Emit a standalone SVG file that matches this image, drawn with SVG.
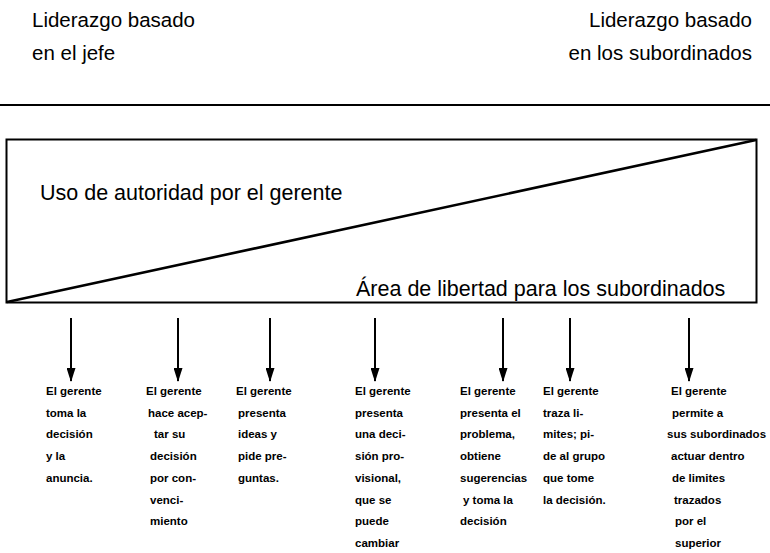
<svg xmlns="http://www.w3.org/2000/svg" width="770" height="553" viewBox="0 0 770 553">
<style>
.hd{font-family:"Liberation Sans",Arial,sans-serif;font-size:20.5px;fill:#000}
.lb{font-family:"Liberation Sans",Arial,sans-serif;font-size:21.5px;fill:#000}
.ct{font-family:"Liberation Sans",Arial,sans-serif;font-size:11.5px;font-weight:bold;fill:#000}
.ln{stroke:#000;fill:none}
.ar{stroke:#000;stroke-width:2;fill:none;marker-end:url(#ah)}
</style>
<defs>
<marker id="ah" viewBox="0 0 14 9" refX="13" refY="4.5" markerWidth="14" markerHeight="9" markerUnits="userSpaceOnUse" orient="auto">
<path d="M0,0 L14,4.5 L0,9 Z" fill="#000"/>
</marker>
</defs>
<rect width="770" height="553" fill="#fff"/>
<g id="header-left">
<text class="hd" x="32" y="27">Liderazgo basado</text>
<text class="hd" x="32" y="60">en el jefe</text>
</g>
<g id="header-right">
<text class="hd" x="752" y="27" text-anchor="end">Liderazgo basado</text>
<text class="hd" x="752" y="60" text-anchor="end">en los subordinados</text>
</g>
<line class="ln" x1="0" y1="105" x2="770" y2="105" stroke-width="2"/>
<g id="chart">
<rect class="ln" x="6.5" y="139.5" width="750" height="163" stroke-width="2"/>
<line class="ln" x1="7" y1="302" x2="756" y2="140" stroke-width="2.6"/>
<text class="lb" x="40" y="200">Uso de autoridad por el gerente</text>
<text class="lb" x="356" y="296">Área de libertad para los subordinados</text>
</g>
<g id="connectors">
<line class="ar" x1="71" y1="318" x2="71" y2="381"/>
<line class="ar" x1="178" y1="318" x2="178" y2="381"/>
<line class="ar" x1="270" y1="318" x2="270" y2="381"/>
<line class="ar" x1="375" y1="318" x2="375" y2="381"/>
<line class="ar" x1="503" y1="318" x2="503" y2="381"/>
<line class="ar" x1="570" y1="318" x2="570" y2="381"/>
<line class="ar" x1="689" y1="318" x2="689" y2="381"/>
</g>
<g id="col1">
<text class="ct" x="46" y="395">El gerente</text>
<text class="ct" x="46" y="416.7">toma la</text>
<text class="ct" x="46" y="438.4">decisión</text>
<text class="ct" x="46" y="460.1">y la</text>
<text class="ct" x="46" y="481.8">anuncia.</text>
</g>
<g id="col2">
<text class="ct" x="146" y="395">El gerente</text>
<text class="ct" x="148" y="416.7">hace acep-</text>
<text class="ct" x="154" y="438.4">tar su</text>
<text class="ct" x="150" y="460.1">decisión</text>
<text class="ct" x="150" y="481.8">por con-</text>
<text class="ct" x="150" y="503.5">venci-</text>
<text class="ct" x="150" y="525.2">miento</text>
</g>
<g id="col3">
<text class="ct" x="236" y="395">El gerente</text>
<text class="ct" x="238" y="416.7">presenta</text>
<text class="ct" x="238" y="438.4">ideas y</text>
<text class="ct" x="238" y="460.1">pide pre-</text>
<text class="ct" x="238" y="481.8">guntas.</text>
</g>
<g id="col4">
<text class="ct" x="355" y="395">El gerente</text>
<text class="ct" x="355" y="416.7">presenta</text>
<text class="ct" x="355" y="438.4">una deci-</text>
<text class="ct" x="355" y="460.1">sión pro-</text>
<text class="ct" x="355" y="481.8">visional,</text>
<text class="ct" x="355" y="503.5">que se</text>
<text class="ct" x="355" y="525.2">puede</text>
<text class="ct" x="355" y="546.9">cambiar</text>
</g>
<g id="col5">
<text class="ct" x="460" y="395">El gerente</text>
<text class="ct" x="460" y="416.7">presenta el</text>
<text class="ct" x="460" y="438.4">problema,</text>
<text class="ct" x="460" y="460.1">obtiene</text>
<text class="ct" x="460" y="481.8">sugerencias</text>
<text class="ct" x="463" y="503.5">y toma la</text>
<text class="ct" x="460" y="525.2">decisión</text>
</g>
<g id="col6">
<text class="ct" x="543" y="395">El gerente</text>
<text class="ct" x="543" y="416.7">traza li-</text>
<text class="ct" x="543" y="438.4">mites; pi-</text>
<text class="ct" x="543" y="460.1">de al grupo</text>
<text class="ct" x="543" y="481.8">que tome</text>
<text class="ct" x="543" y="503.5">la decisión.</text>
</g>
<g id="col7">
<text class="ct" x="671" y="395">El gerente</text>
<text class="ct" x="672" y="416.7">permite a</text>
<text class="ct" x="667" y="438.4">sus subordinados</text>
<text class="ct" x="671" y="460.1">actuar dentro</text>
<text class="ct" x="672" y="481.8">de limites</text>
<text class="ct" x="674" y="503.5">trazados</text>
<text class="ct" x="675" y="525.2">por el</text>
<text class="ct" x="675" y="546.9">superior</text>
</g>
</svg>
